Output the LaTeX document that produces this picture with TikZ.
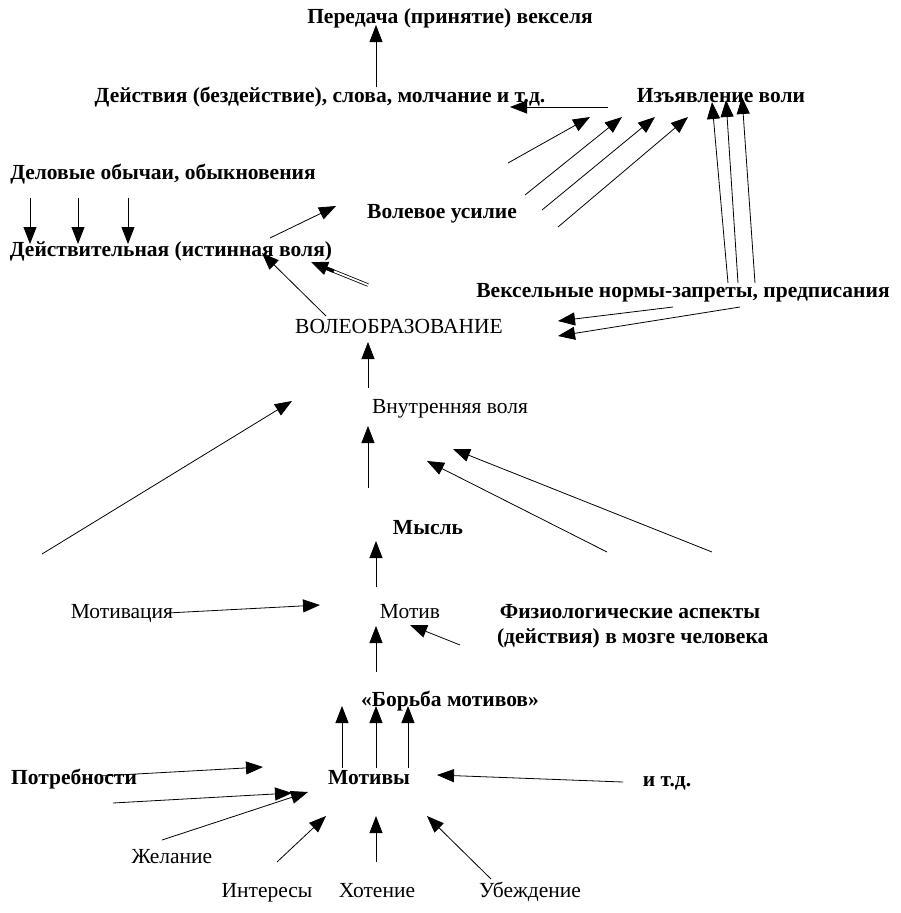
\documentclass[tikz,border=0pt]{standalone}
\usepackage{fontspec}
\setmainfont{Liberation Serif}
\usetikzlibrary{arrows.meta}
\usetikzlibrary{calc}
\tikzset{>={Triangle[length=17pt,width=13pt]}}
\tikzset{txt/.style={inner sep=0pt,text height=0.7em,text depth=0.25em,yshift=-4.5pt,
    font=\fontsize{21.5}{25}\selectfont},
  btxt/.style={txt,font=\fontsize{21.5}{25}\selectfont\bfseries},
  arr/.style={->,line width=0.8pt}}

\begin{document}
\begin{tikzpicture}[x=1pt,y=-1pt]
    \useasboundingbox (0,0) rectangle (900,913);

    \node [btxt] (peredacha) at (450,17) {Передача (принятие) векселя};
    \node [btxt] (deistviya) at (320,96) {Действия (бездействие), слова, молчание и т.д.};
    \node [btxt] (izyavl) at (721,96) {Изъявление воли};
    \node [btxt] (obychai) at (163,173) {Деловые обычаи, обыкновения};
    \node [btxt] (usilie) at (442,212) {Волевое усилие};
    \node [btxt] (istvolya) at (171,250) {Действительная (истинная воля)};
    \node [btxt] (normy) at (683,291) {Вексельные нормы-запреты, предписания};
    \node [txt] (voleobr) at (399,327) {ВОЛЕОБРАЗОВАНИЕ};
    \node [txt] (vnutr) at (450,407) {Внутренняя воля};
    \node [btxt] (mysl) at (428,528) {Мысль};
    \node [txt] (motivacia) at (122,612) {Мотивация};
    \node [txt] (motiv) at (410,612) {Мотив};
    \node [btxt,align=center,text height=,text depth=] (fiziol) at (630,622)
    {Физиологические аспекты\\ \ (действия) в мозге человека};
    \node [btxt] (borba) at (450,700) {«Борьба мотивов»};
    \node [btxt] (potreb) at (74,778) {Потребности};
    \node [btxt] (motivy) at (369,778) {Мотивы};
    \node [btxt] (itd) at (667,780) {и т.д.};
    \node [txt] (zhelanie) at (172,857) {Желание};
    \node [txt] (interesy) at (267,891) {Интересы};
    \node [txt] (hotenie) at (377,891) {Хотение};
    \node [txt] (ubezhd) at (530,891) {Убеждение};

    \coordinate (d0) at (376,87);   \coordinate (d0t) at (376,25);
    \coordinate (i0) at (608,107);  \coordinate (i0t) at (510,107);
    \coordinate (u1) at (508,163);  \coordinate (u1t) at (590,117);
    \coordinate (u2) at (525,195);  \coordinate (u2t) at (622,117);
    \coordinate (u3) at (542,210);  \coordinate (u3t) at (655,117);
    \coordinate (u4) at (558,227);  \coordinate (u4t) at (688,117);
    \coordinate (n1) at (728,283);  \coordinate (n1t) at (712,102);
    \coordinate (n2) at (738,283);  \coordinate (n2t) at (726,100);
    \coordinate (n3) at (755,283);  \coordinate (n3t) at (742,97);
    \coordinate (n4) at (673,307);  \coordinate (n4t) at (558,321);
    \coordinate (n5) at (740,307);  \coordinate (n5t) at (558,336);

    \draw [arr] (d0) -- (d0t);
    \draw [arr] (i0) -- (i0t);
    \draw [arr] (u1) -- (u1t);
    \draw [arr] (u2) -- (u2t);
    \draw [arr] (u3) -- (u3t);
    \draw [arr] (u4) -- (u4t);
    \draw [arr] (n1) -- (n1t);
    \draw [arr] (n2) -- (n2t);
    \draw [arr] (n3) -- (n3t);
    \draw [arr] (n4) -- (n4t);
    \draw [arr] (n5) -- (n5t);

    \coordinate (o1) at (30,198);   \coordinate (o1t) at (30,244);
    \coordinate (o2) at (78,198);   \coordinate (o2t) at (78,244);
    \coordinate (o3) at (128,198);  \coordinate (o3t) at (128,244);
    \coordinate (w1) at (270,238);  \coordinate (w1t) at (336,206);
    \coordinate (w2) at (326,316);  \coordinate (w2t) at (262,253);
    \coordinate (w3) at (368,285);  \coordinate (w3t) at (311,262);
    \coordinate (w3m) at ($(w3)!0.6!(w3t)$);

    \draw [arr] (o1) -- (o1t);
    \draw [arr] (o2) -- (o2t);
    \draw [arr] (o3) -- (o3t);
    \draw [arr] (w1) -- (w1t);
    \draw [arr] (w2) -- (w2t);
    \draw [line width=0.8pt,double,double distance=1.8pt] (w3) -- ($(w3)!0.75!(w3t)$);
    \draw [arr,line width=3.4pt] (w3m) -- (w3t);

    \coordinate (v1) at (368,388);  \coordinate (v1t) at (368,342);
    \coordinate (v2) at (368,488);  \coordinate (v2t) at (368,426);
    \coordinate (l1) at (42,554);   \coordinate (l1t) at (292,401);
    \coordinate (r1) at (607,552);  \coordinate (r1t) at (427,461);
    \coordinate (r2) at (712,552);  \coordinate (r2t) at (453,449);
    \coordinate (m1) at (376,587);  \coordinate (m1t) at (376,541);
    \coordinate (m2) at (167,613);  \coordinate (m2t) at (320,605);
    \coordinate (m3) at (460,645);  \coordinate (m3t) at (410,625);
    \coordinate (m4) at (376,672);  \coordinate (m4t) at (376,626);

    \draw [arr] (v1) -- (v1t);
    \draw [arr] (v2) -- (v2t);
    \draw [arr] (l1) -- (l1t);
    \draw [arr] (r1) -- (r1t);
    \draw [arr] (r2) -- (r2t);
    \draw [arr] (m1) -- (m1t);
    \draw [arr] (m2) -- (m2t);
    \draw [arr] (m3) -- (m3t);
    \draw [arr] (m4) -- (m4t);

    \coordinate (b1) at (342,768);  \coordinate (b1t) at (342,706);
    \coordinate (b2) at (376,768);  \coordinate (b2t) at (376,706);
    \coordinate (b3) at (408,768);  \coordinate (b3t) at (408,706);
    \coordinate (p1) at (100,776);  \coordinate (p1t) at (263,767);
    \coordinate (p2) at (113,803);  \coordinate (p2t) at (292,793);
    \coordinate (p3) at (162,840);  \coordinate (p3t) at (308,792);
    \coordinate (p4) at (277,862);  \coordinate (p4t) at (326,816);
    \coordinate (p5) at (376,862);  \coordinate (p5t) at (376,816);
    \coordinate (p6) at (491,879);  \coordinate (p6t) at (427,816);
    \coordinate (p7) at (623,782);  \coordinate (p7t) at (437,775);

    \draw [arr] (b1) -- (b1t);
    \draw [arr] (b2) -- (b2t);
    \draw [arr] (b3) -- (b3t);
    \draw [arr] (p1) -- (p1t);
    \draw [arr] (p2) -- (p2t);
    \draw [arr] (p3) -- (p3t);
    \draw [arr] (p4) -- (p4t);
    \draw [arr] (p5) -- (p5t);
    \draw [arr] (p6) -- (p6t);
    \draw [arr] (p7) -- (p7t);
  \end{tikzpicture}
\end{document}
